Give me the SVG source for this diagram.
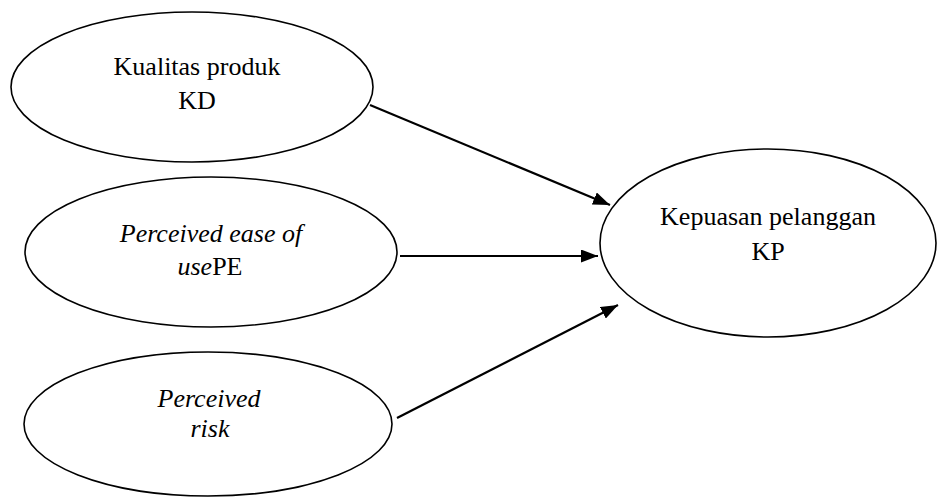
<svg xmlns="http://www.w3.org/2000/svg" width="937" height="498" viewBox="0 0 937 498">
<defs>
<style>
.node ellipse{fill:#fff;stroke:#000;stroke-width:1.6}
text{font-family:"Liberation Serif","Times New Roman",serif;font-size:26px;fill:#000;text-anchor:middle}
.it{font-style:italic}
.conn line{stroke:#000;stroke-width:2.2}
</style>
<marker id="ah" markerUnits="userSpaceOnUse" markerWidth="17" markerHeight="13" refX="17" refY="6.5" orient="auto">
<path d="M0,0 L17,6.5 L0,13 z" fill="#000"/>
</marker>
</defs>
<rect width="937" height="498" fill="#fff"/>
<g id="kd" class="node">
<ellipse cx="192" cy="87" rx="181" ry="75"/>
<text x="197" y="75">Kualitas produk</text>
<text x="197" y="109">KD</text>
</g>
<g id="pe" class="node">
<ellipse cx="211" cy="252" rx="186" ry="75"/>
<text x="211" y="242" class="it">Perceived ease of</text>
<text x="210" y="275"><tspan class="it">use</tspan>PE</text>
</g>
<g id="pr" class="node">
<ellipse cx="208" cy="424" rx="184" ry="72"/>
<text x="209" y="407" class="it">Perceived</text>
<text x="210" y="437" class="it">risk</text>
</g>
<g id="kp" class="node">
<ellipse cx="768" cy="243" rx="168" ry="94"/>
<text x="768" y="225">Kepuasan pelanggan</text>
<text x="768" y="260">KP</text>
</g>
<g id="connectors" class="conn">
<line x1="370" y1="105" x2="610" y2="205" marker-end="url(#ah)"/>
<line x1="400" y1="256" x2="598" y2="256" marker-end="url(#ah)"/>
<line x1="397" y1="418" x2="618" y2="305" marker-end="url(#ah)"/>
</g>
</svg>
